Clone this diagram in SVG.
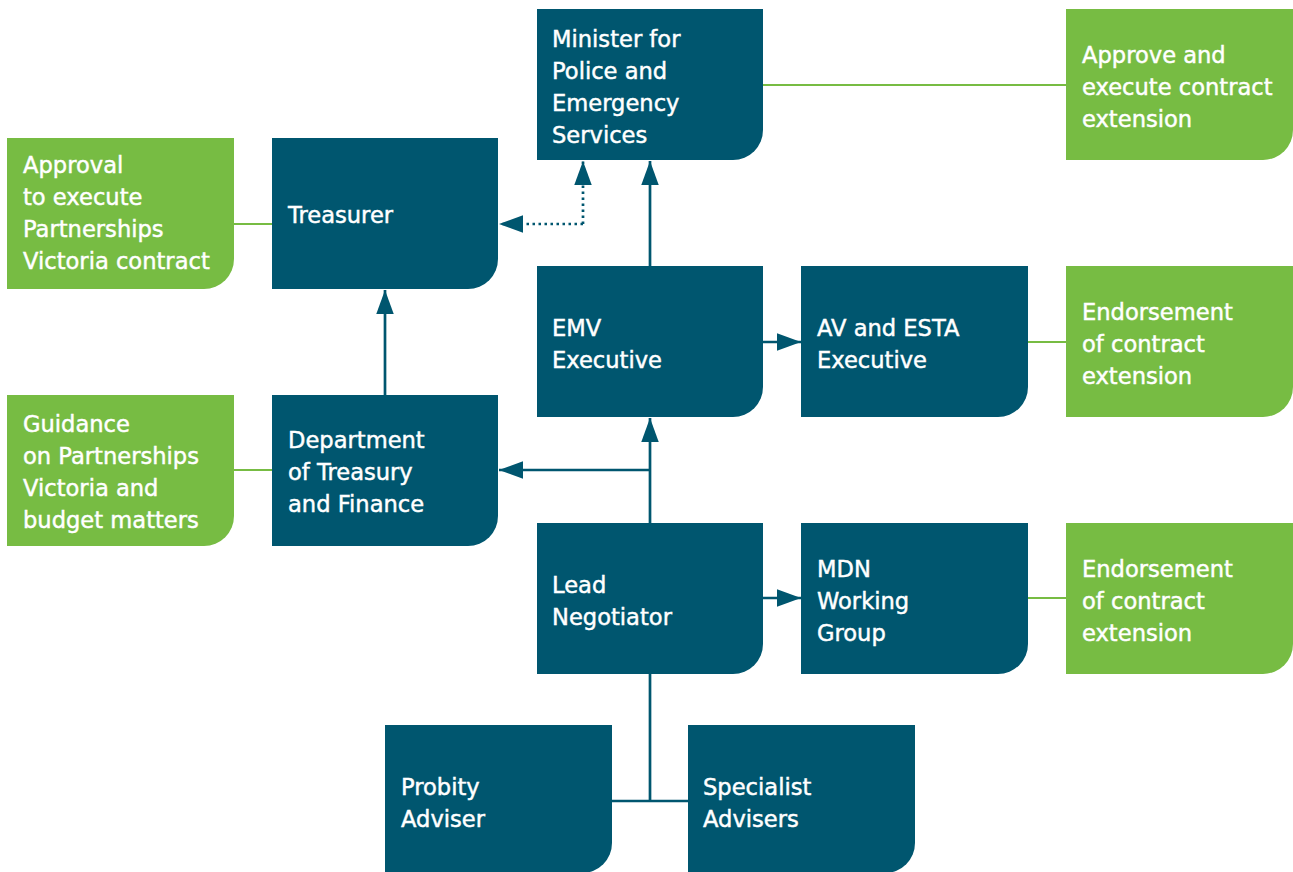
<svg xmlns="http://www.w3.org/2000/svg" width="1293" height="872" viewBox="0 0 1293 872">
<style>
.d{fill:#00566f}
.g{fill:#77bc43}
text{font-family:"DejaVu Sans","Liberation Sans",sans-serif;font-size:22.6px;fill:#ffffff;stroke:#ffffff;stroke-width:0.45px}
.c{stroke:#00566f;stroke-width:2.7;fill:none}
.gc{stroke:#77bc43;stroke-width:2.2;fill:none}
.dot{stroke-dasharray:2.5 3.5}
</style>
<defs>
<marker id="ah" markerUnits="userSpaceOnUse" markerWidth="24" markerHeight="18" viewBox="0 0 22 16" refX="22" refY="8" orient="auto">
<path d="M0,0 L22,8 L0,16 Z" fill="#00566f"/>
</marker>
</defs>
<g id="connectors">
<line class="gc" x1="763" y1="85" x2="1066" y2="85"/>
<line class="gc" x1="234" y1="224" x2="272" y2="224"/>
<line class="gc" x1="1028" y1="342" x2="1066" y2="342"/>
<line class="gc" x1="234" y1="470" x2="272" y2="470"/>
<line class="gc" x1="1028" y1="598" x2="1066" y2="598"/>
<polyline class="c dot" points="583,224 583,161" marker-end="url(#ah)"/>
<polyline class="c dot" points="583,224 499,224" marker-end="url(#ah)"/>
<line class="c" x1="650" y1="266" x2="650" y2="161" marker-end="url(#ah)"/>
<line class="c" x1="385" y1="395" x2="385" y2="290" marker-end="url(#ah)"/>
<line class="c" x1="763" y1="342" x2="801" y2="342" marker-end="url(#ah)"/>
<line class="c" x1="650" y1="523" x2="650" y2="418" marker-end="url(#ah)"/>
<line class="c" x1="650" y1="470" x2="499" y2="470" marker-end="url(#ah)"/>
<line class="c" x1="763" y1="598" x2="801" y2="598" marker-end="url(#ah)"/>
<line class="c" x1="650" y1="674" x2="650" y2="801"/>
<line class="c" x1="612" y1="801" x2="688" y2="801"/>
</g>
<g id="minister">
<path class="d" d="M537,9 h226 v121 a30,30 0 0 1 -30,30 h-196 z"/>
<text x="552" y="47">Minister for</text>
<text x="552" y="79">Police and</text>
<text x="552" y="111">Emergency</text>
<text x="552" y="143">Services</text>
</g>
<g id="approve-execute">
<path class="g" d="M1066,9 h227 v121 a30,30 0 0 1 -30,30 h-197 z"/>
<text x="1082" y="63">Approve and</text>
<text x="1082" y="95">execute contract</text>
<text x="1082" y="127">extension</text>
</g>
<g id="treasurer">
<path class="d" d="M272,138 h226 v121 a30,30 0 0 1 -30,30 h-196 z"/>
<text x="288" y="223">Treasurer</text>
</g>
<g id="approval-execute">
<path class="g" d="M7,138 h227 v121 a30,30 0 0 1 -30,30 h-197 z"/>
<text x="23" y="173">Approval</text>
<text x="23" y="205">to execute</text>
<text x="23" y="237">Partnerships</text>
<text x="23" y="269">Victoria contract</text>
</g>
<g id="emv-executive">
<path class="d" d="M537,266 h226 v121 a30,30 0 0 1 -30,30 h-196 z"/>
<text x="552" y="336">EMV</text>
<text x="552" y="368">Executive</text>
</g>
<g id="av-esta-executive">
<path class="d" d="M801,266 h227 v121 a30,30 0 0 1 -30,30 h-197 z"/>
<text x="817" y="336">AV and ESTA</text>
<text x="817" y="368">Executive</text>
</g>
<g id="endorsement-1">
<path class="g" d="M1066,266 h227 v121 a30,30 0 0 1 -30,30 h-197 z"/>
<text x="1082" y="320">Endorsement</text>
<text x="1082" y="352">of contract</text>
<text x="1082" y="384">extension</text>
</g>
<g id="guidance">
<path class="g" d="M7,395 h227 v121 a30,30 0 0 1 -30,30 h-197 z"/>
<text x="23" y="432">Guidance</text>
<text x="23" y="464">on Partnerships</text>
<text x="23" y="496">Victoria and</text>
<text x="23" y="528">budget matters</text>
</g>
<g id="dtf">
<path class="d" d="M272,395 h226 v121 a30,30 0 0 1 -30,30 h-196 z"/>
<text x="288" y="448">Department</text>
<text x="288" y="480">of Treasury</text>
<text x="288" y="512">and Finance</text>
</g>
<g id="lead-negotiator">
<path class="d" d="M537,523 h226 v121 a30,30 0 0 1 -30,30 h-196 z"/>
<text x="552" y="593">Lead</text>
<text x="552" y="625">Negotiator</text>
</g>
<g id="mdn-working-group">
<path class="d" d="M801,523 h227 v121 a30,30 0 0 1 -30,30 h-197 z"/>
<text x="817" y="577">MDN</text>
<text x="817" y="609">Working</text>
<text x="817" y="641">Group</text>
</g>
<g id="endorsement-2">
<path class="g" d="M1066,523 h227 v121 a30,30 0 0 1 -30,30 h-197 z"/>
<text x="1082" y="577">Endorsement</text>
<text x="1082" y="609">of contract</text>
<text x="1082" y="641">extension</text>
</g>
<g id="probity-adviser">
<path class="d" d="M385,725 h227 v118 a30,30 0 0 1 -30,30 h-197 z"/>
<text x="401" y="795">Probity</text>
<text x="401" y="827">Adviser</text>
</g>
<g id="specialist-advisers">
<path class="d" d="M688,725 h227 v118 a30,30 0 0 1 -30,30 h-197 z"/>
<text x="703" y="795">Specialist</text>
<text x="703" y="827">Advisers</text>
</g>
</svg>
